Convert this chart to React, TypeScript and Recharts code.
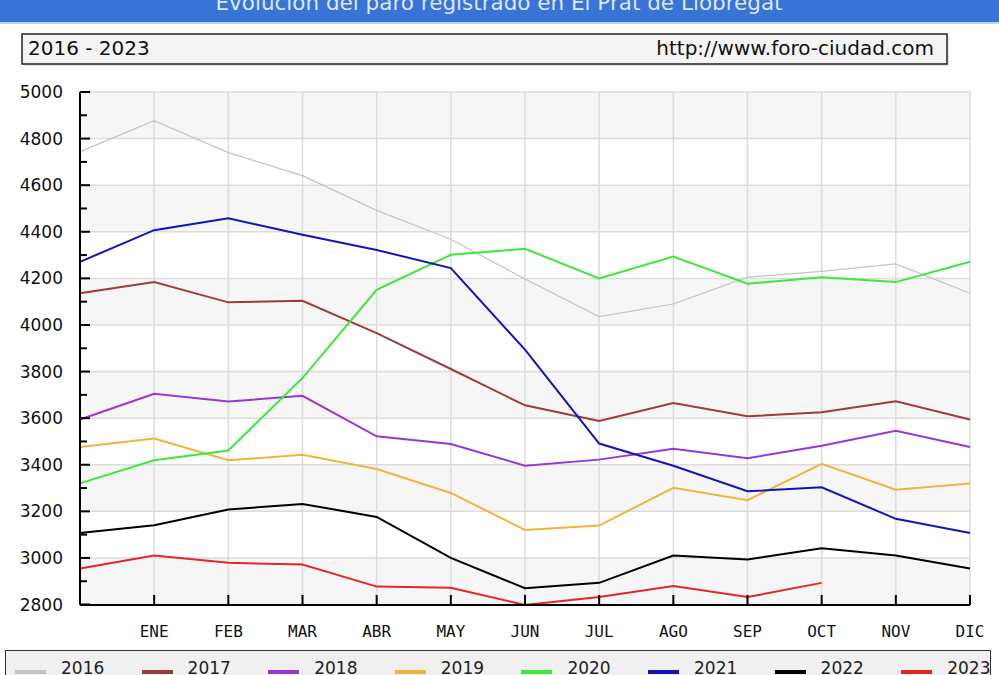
import React from 'react';
import { LineChart, Line, XAxis, YAxis, CartesianGrid, Legend } from 'recharts';

// first slot is the previous December (no label)
const meses = ['', 'ENE', 'FEB', 'MAR', 'ABR', 'MAY', 'JUN', 'JUL', 'AGO', 'SEP', 'OCT', 'NOV', 'DIC'];

const paro2016 = [4744, 4877, 4740, 4641, 4492, 4368, 4197, 4036, 4090, 4205, 4230, 4262, 4136];
const paro2017 = [4136, 4184, 4097, 4104, 3965, 3811, 3655, 3588, 3665, 3608, 3625, 3672, 3594];
const paro2018 = [3594, 3705, 3671, 3696, 3522, 3489, 3396, 3422, 3469, 3428, 3482, 3546, 3476];
const paro2019 = [3476, 3513, 3419, 3443, 3382, 3279, 3120, 3139, 3301, 3248, 3404, 3293, 3320];
const paro2020 = [3320, 3419, 3461, 3772, 4151, 4301, 4327, 4200, 4294, 4177, 4205, 4184, 4271];
const paro2021 = [4271, 4407, 4458, 4387, 4322, 4244, 3894, 3491, 3396, 3286, 3303, 3168, 3107];
const paro2022 = [3107, 3140, 3208, 3232, 3176, 3000, 2870, 2893, 3010, 2993, 3042, 3010, 2955];
const paro2023 = [2955, 3010, 2979, 2972, 2877, 2872, 2798, 2832, 2879, 2832, 2893, null, null];

const years = ['2016', '2017', '2018', '2019', '2020', '2021', '2022', '2023'];
const seriesValues = [paro2016, paro2017, paro2018, paro2019, paro2020, paro2021, paro2022, paro2023];
const colors = ['#c4c4c4', '#a03a3a', '#9a35d6', '#f0b43c', '#3ce83c', '#1414b4', '#000000', '#e02828'];

const yTicks = [2800, 2900, 3000, 3100, 3200, 3300, 3400, 3500, 3600, 3700, 3800, 3900, 4000,
  4100, 4200, 4300, 4400, 4500, 4600, 4700, 4800, 4900, 5000];
const gridValues = [2800, 3000, 3200, 3400, 3600, 3800, 4000, 4200, 4400, 4600, 4800, 5000];

const data = meses.map((mes, i) => {
  const row: Record<string, string | number | null> = { mes };
  years.forEach((y, s) => { row[y] = seriesValues[s][i]; });
  return row;
});

const font = '"DejaVu Sans", Verdana, sans-serif';

function YTick({ x, y, payload }: any) {
  const major = payload.value % 200 === 0;
  return (
    <g>
      <line x1={x} y1={y} x2={x + (major ? 10 : 7)} y2={y} stroke="#000" strokeWidth={2} />
      {major && (
        <text x={x - 17} y={y} dy="0.36em" textAnchor="end" fontSize={17} fontFamily={font} fill="#111">
          {payload.value}
        </text>
      )}
    </g>
  );
}

function XTick({ x, y, payload }: any) {
  if (!payload.value) return null;
  return (
    <g>
      <line x1={x} y1={y} x2={x} y2={y - 10} stroke="#000" strokeWidth={2} />
      <text x={x} y={y + 32} textAnchor="middle" fontSize={16} fontFamily='"DejaVu Sans Mono", monospace' fill="#111">
        {payload.value}
      </text>
    </g>
  );
}

function LegendBox({ payload }: any) {
  return (
    <div style={{ position: 'relative', width: 986, height: 40, background: '#f0f0f0', border: '1px solid #333', boxSizing: 'border-box' }}>
      {(payload || []).map((entry: any, i: number) => (
        <div key={entry.value}>
          <div style={{ position: 'absolute', left: 9 + i * 126.6, top: 19, width: 31, height: 4, background: entry.color }} />
          <div style={{ position: 'absolute', left: 55 + i * 126.6, top: 7, fontSize: 17, fontFamily: font, color: '#222', lineHeight: '20px' }}>
            {entry.value}
          </div>
        </div>
      ))}
    </div>
  );
}

export default function App() {
  return (
    <div style={{ position: 'absolute', left: 0, top: 0, width: 999, height: 675, overflow: 'hidden', background: '#fff' }}>
      <svg width={999} height={70} style={{ position: 'absolute', left: 0, top: 0 }}>
        <rect x={0} y={0} width={999} height={22} fill="#3874d6" />
        <rect x={0} y={22} width={999} height={2} fill="#b6d6f2" />
        <text x={499} y={10} textAnchor="middle" fontSize={21.5} fontFamily={font} fill="#dde7f8">
          Evolución del paro registrado en El Prat de Llobregat
        </text>
        <rect x={24} y={36} width={925} height={30} fill="#e8e8e8" />
        <rect x={22} y={34} width={925} height={30} fill="#f4f4f4" stroke="#222" strokeWidth={1.5} />
        <text x={28} y={55} fontSize={20} fontFamily={font} fill="#111">2016 - 2023</text>
        <text x={934} y={55} textAnchor="end" fontSize={20} fontFamily={font} fill="#111">http://www.foro-ciudad.com</text>
      </svg>
      <div style={{ position: 'absolute', left: 0, top: 0 }}>
        <LineChart width={999} height={675} data={data} margin={{ top: 92, right: 29, bottom: 0, left: 0 }}>
          <CartesianGrid
            stroke="#dcdcdc"
            strokeWidth={1.5}
            horizontalValues={gridValues}
            horizontalFill={['#f6f6f6', '#ffffff']}
            fillOpacity={1}
          />
          <XAxis
            dataKey="mes"
            height={70}
            interval={0}
            tickSize={0}
            tickMargin={0}
            tickLine={false}
            axisLine={{ stroke: '#000', strokeWidth: 2 }}
            tick={<XTick />}
          />
          <YAxis
            type="number"
            width={80}
            domain={[2800, 5000]}
            ticks={yTicks}
            interval={0}
            tickSize={0}
            tickMargin={0}
            tickLine={false}
            axisLine={{ stroke: '#000', strokeWidth: 2 }}
            tick={<YTick />}
          />
          <Legend
            layout="vertical"
            align="center"
            verticalAlign="middle"
            wrapperStyle={{ left: 5, top: 650, width: 986, height: 40 }}
            content={<LegendBox />}
          />
          {years.map((y, s) => (
            <Line
              key={y}
              type="linear"
              dataKey={y}
              name={y}
              stroke={colors[s]}
              strokeWidth={s === 0 ? 1.2 : 2}
              dot={false}
              activeDot={false}
              connectNulls={false}
              isAnimationActive={false}
            />
          ))}
        </LineChart>
      </div>
    </div>
  );
}
